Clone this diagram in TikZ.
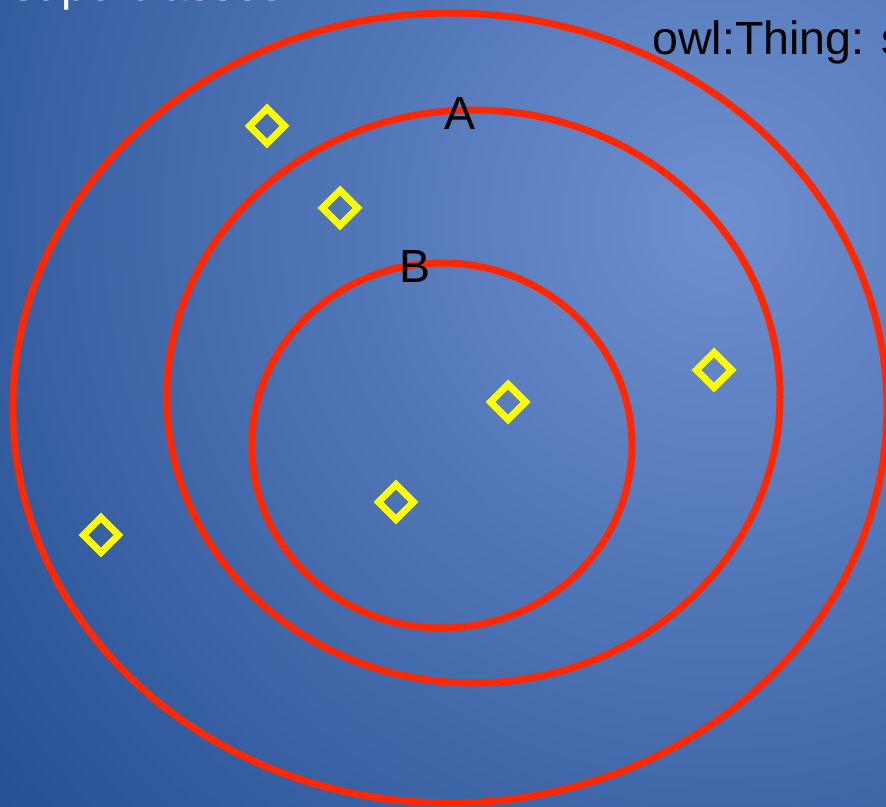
\documentclass[tikz,border=0pt]{standalone}
\usepackage{fontspec}
\setmainfont{Liberation Sans}
\usetikzlibrary{shapes.geometric}
\definecolor{bgcenter}{RGB}{110,143,207}
\definecolor{bgouter}{RGB}{32,76,143}
\definecolor{setred}{RGB}{255,40,0}
\definecolor{memberyellow}{RGB}{255,255,0}

\begin{document}
\begin{tikzpicture}[
  x=0.02cm, y=-0.02cm,
  setring/.style={draw=setred, line width=0.14cm},
  member/.style={
    diamond, draw=memberyellow, line width=0.14cm,
    minimum width=0.76cm, minimum height=0.76cm, inner sep=0pt},
  setlabel/.style={font=\fontsize{26.5}{32}\selectfont, inner sep=0pt},
]

%% ---- Background ----
\useasboundingbox (0,0) rectangle (886,807);
\clip (0,0) rectangle (886,807);
\shade[inner color=bgcenter, outer color=bgouter]
  (720,220) circle [radius=1000];

%% ---- Nested sets ----
\draw[setring] (450,408) ellipse [x radius=437, y radius=395];
\draw[setring] (473.5,396.5) ellipse [x radius=306.5, y radius=286.5];
\draw[setring] (442,445.5) ellipse [x radius=190, y radius=182.5];

%% ---- Labels ----
\node[setlabel] (lblA) at (460,113) {A};
\node[setlabel] (lblB) at (415,266) {B};
\node[setlabel, anchor=base west] (lblThing) at (652,55) {owl:Thing: s};
\node[setlabel, anchor=base west, text=white] (lblTop) at (12,0.4) {superclasses};

%% ---- Individuals ----
\node[member] (m1) at (267,126) {};
\node[member] (m2) at (340,208) {};
\node[member] (m3) at (508,402) {};
\node[member] (m4) at (714,370) {};
\node[member] (m5) at (396,502) {};
\node[member] (m6) at (101,535) {};

\end{tikzpicture}
\end{document}
